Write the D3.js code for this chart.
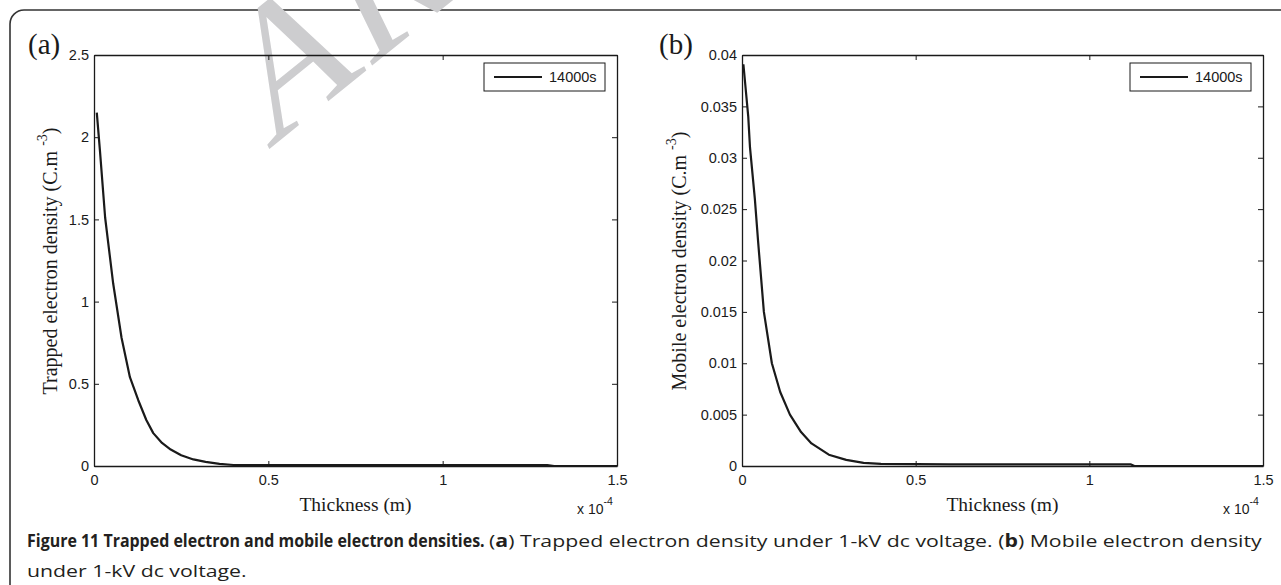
<!DOCTYPE html>
<html>
<head>
<meta charset="utf-8">
<script src="https://cdn.jsdelivr.net/npm/d3@7"></script>
<style>
  body { margin: 0; background: #fff; }
  svg { display: block; }
</style>
</head>
<body>
<svg id="fig" width="1281" height="585"></svg>
<script>
// thickness in units of 1e-4 m
var trappedX = [0.008, 0.017, 0.032, 0.055, 0.079, 0.103, 0.127, 0.15, 0.17, 0.195, 0.22, 0.25, 0.285, 0.32, 0.36, 0.4, 0.6, 0.8, 1.0, 1.2, 1.3, 1.32, 1.5];
var trappedY = [2.15, 1.92, 1.51, 1.11, 0.78, 0.54, 0.40, 0.28, 0.20, 0.14, 0.10, 0.065, 0.04, 0.025, 0.013, 0.006, 0.005, 0.005, 0.005, 0.005, 0.005, 0.0, 0.0];

var mobileX = [0.004, 0.018, 0.023, 0.037, 0.046, 0.063, 0.086, 0.11, 0.138, 0.17, 0.2, 0.25, 0.3, 0.35, 0.4, 0.6, 0.8, 1.0, 1.12, 1.13, 1.5];
var mobileY = [0.0391, 0.034, 0.031, 0.026, 0.022, 0.015, 0.010, 0.0072, 0.005, 0.0033, 0.0022, 0.0011, 0.0006, 0.0003, 0.0002, 0.00015, 0.00015, 0.00015, 0.00015, 0, 0];

var xTicks = [0, 0.5, 1, 1.5];
var trappedTicks = [0, 0.5, 1, 1.5, 2, 2.5];
var mobileTicks = [0, 0.005, 0.01, 0.015, 0.02, 0.025, 0.03, 0.035, 0.04];
var legendLabel = "14000s";

var svg = d3.select("#fig");

// outer frame of the figure box (runs off right and bottom)
svg.append("rect")
    .attr("x", 10).attr("y", 10)
    .attr("width", 1320).attr("height", 640)
    .attr("rx", 14)
    .attr("fill", "none")
    .attr("stroke", "#333")
    .attr("stroke-width", 1.6);

// grey watermark letters
svg.append("text")
    .attr("transform", "translate(268,150) rotate(-39) skewX(-13)")
    .attr("font-family", "'Liberation Serif', serif")
    .attr("font-size", 177)
    .attr("fill", "#cdcdcf")
    .text("AR");

var sans = "'Liberation Sans', Arial, sans-serif",
    serif = "'Liberation Serif', 'Times New Roman', serif",
    ink = "#1a1a1a";

function panel(cfg) {
  var x = d3.scaleLinear().domain([0, 1.5]).range([cfg.left, cfg.right]);
  var y = d3.scaleLinear().domain(cfg.yDomain).range([cfg.bottom, cfg.top]);
  var g = svg.append("g");

  var line = d3.line()
      .x(function(d) { return x(d[0]); })
      .y(function(d) { return y(d[1]); });

  g.append("path")
      .datum(d3.zip(cfg.xs, cfg.ys))
      .attr("d", line)
      .attr("fill", "none")
      .attr("stroke", ink)
      .attr("stroke-width", 2.2)
      .attr("stroke-linejoin", "round");

  function styleAxis(sel) {
    sel.select(".domain").attr("stroke", ink).attr("stroke-width", 1.3);
    sel.selectAll(".tick line").attr("stroke", ink).attr("stroke-width", 1);
    sel.selectAll("text")
        .attr("font-family", sans)
        .attr("font-size", 14.5)
        .attr("fill", ink);
  }

  g.append("g")
      .attr("transform", "translate(0," + cfg.bottom + ")")
      .call(d3.axisBottom(x).tickValues(xTicks).tickSize(-5).tickSizeOuter(0).tickPadding(9)
        .tickFormat(d3.format("")))
      .call(styleAxis);
  g.append("g")
      .attr("transform", "translate(0," + cfg.top + ")")
      .call(d3.axisTop(x).tickValues(xTicks).tickSize(-5).tickSizeOuter(0).tickFormat(""))
      .call(styleAxis);
  g.append("g")
      .attr("transform", "translate(" + cfg.left + ",0)")
      .call(d3.axisLeft(y).tickValues(cfg.yTicks).tickSize(-5).tickSizeOuter(0).tickPadding(5)
        .tickFormat(function(d) { return String(d); }))
      .call(styleAxis);
  g.append("g")
      .attr("transform", "translate(" + cfg.right + ",0)")
      .call(d3.axisRight(y).tickValues(cfg.yTicks).tickSize(-5).tickSizeOuter(0).tickFormat(""))
      .call(styleAxis);

  // legend
  var lx = cfg.right - 133, ly = cfg.top + 8;
  g.append("rect")
      .attr("x", lx).attr("y", ly).attr("width", 121).attr("height", 28)
      .attr("fill", "#fff").attr("stroke", ink).attr("stroke-width", 1);
  g.append("line")
      .attr("x1", lx + 10).attr("x2", lx + 58)
      .attr("y1", ly + 14).attr("y2", ly + 14)
      .attr("stroke", ink).attr("stroke-width", 2.2);
  g.append("text")
      .attr("x", lx + 65).attr("y", ly + 19)
      .attr("font-family", sans).attr("font-size", 14.5).attr("fill", ink)
      .text(legendLabel);

  // panel letter
  g.append("text")
      .attr("x", cfg.letterX).attr("y", cfg.top - 1)
      .attr("font-family", serif).attr("font-size", 29).attr("fill", ink)
      .text(cfg.letter);

  // x title
  g.append("text")
      .attr("x", (cfg.left + cfg.right) / 2).attr("y", 511)
      .attr("text-anchor", "middle")
      .attr("font-family", serif).attr("font-size", 19.5).attr("fill", ink)
      .text("Thickness (m)");

  // exponent note
  var ex = g.append("text")
      .attr("x", cfg.right - 40).attr("y", 514)
      .attr("font-family", sans).attr("font-size", 14).attr("fill", ink);
  ex.append("tspan").text("x 10");
  ex.append("tspan").attr("dy", -9).attr("font-size", 10.5).text("-4");

  // y title, rotated
  var yt = g.append("text")
      .attr("transform", "translate(" + cfg.titleX + "," + cfg.titleY + ") rotate(-90)")
      .attr("text-anchor", "middle")
      .attr("font-family", serif).attr("font-size", 20).attr("fill", ink);
  yt.append("tspan").text(cfg.yTitle + " (C.m ");
  yt.append("tspan").attr("dy", -10).attr("font-size", 14).text("-3");
  yt.append("tspan").attr("dy", 10).text(")");
}

panel({
  left: 94, right: 617, top: 55, bottom: 466,
  yDomain: [0, 2.5], yTicks: trappedTicks,
  xs: trappedX, ys: trappedY,
  letter: "(a)", letterX: 28,
  yTitle: "Trapped electron density",
  titleX: 57, titleY: 261
});

panel({
  left: 742, right: 1263, top: 55, bottom: 466,
  yDomain: [0, 0.04], yTicks: mobileTicks,
  xs: mobileX, ys: mobileY,
  letter: "(b)", letterX: 659,
  yTitle: "Mobile electron density",
  titleX: 686, titleY: 261
});

// caption: the original face is narrower in bold, so each run is squeezed
// horizontally to the width it takes in the reference
var capFont = "'Open Sans', 'Noto Sans', sans-serif",
    capInk = "#231f20",
    capSize = 17;

function fitRun(x, y, width, build) {
  var g = svg.append("g");
  var t = g.append("text")
      .attr("font-family", capFont).attr("font-size", capSize).attr("fill", capInk);
  build(t);
  var k = width ? width / t.node().getComputedTextLength() : 1;
  g.attr("transform", "translate(" + x + "," + y + ") scale(" + k + ",1)");
  return k;
}

fitRun(27, 547, 458, function(t) {
  t.attr("font-weight", "bold").text("Figure 11 Trapped electron and mobile electron densities.");
});

var kRest = fitRun(489, 547, 773, function(t) {
  t.append("tspan").text("(");
  t.append("tspan").attr("font-weight", "bold").text("a");
  t.append("tspan").text(") Trapped electron density under 1-kV dc voltage. (");
  t.append("tspan").attr("font-weight", "bold").text("b");
  t.append("tspan").text(") Mobile electron density");
});

svg.append("text")
    .attr("transform", "translate(27,577) scale(" + kRest + ",1)")
    .attr("font-family", capFont).attr("font-size", capSize).attr("fill", capInk)
    .text("under 1-kV dc voltage.");
</script>
</body>
</html>
